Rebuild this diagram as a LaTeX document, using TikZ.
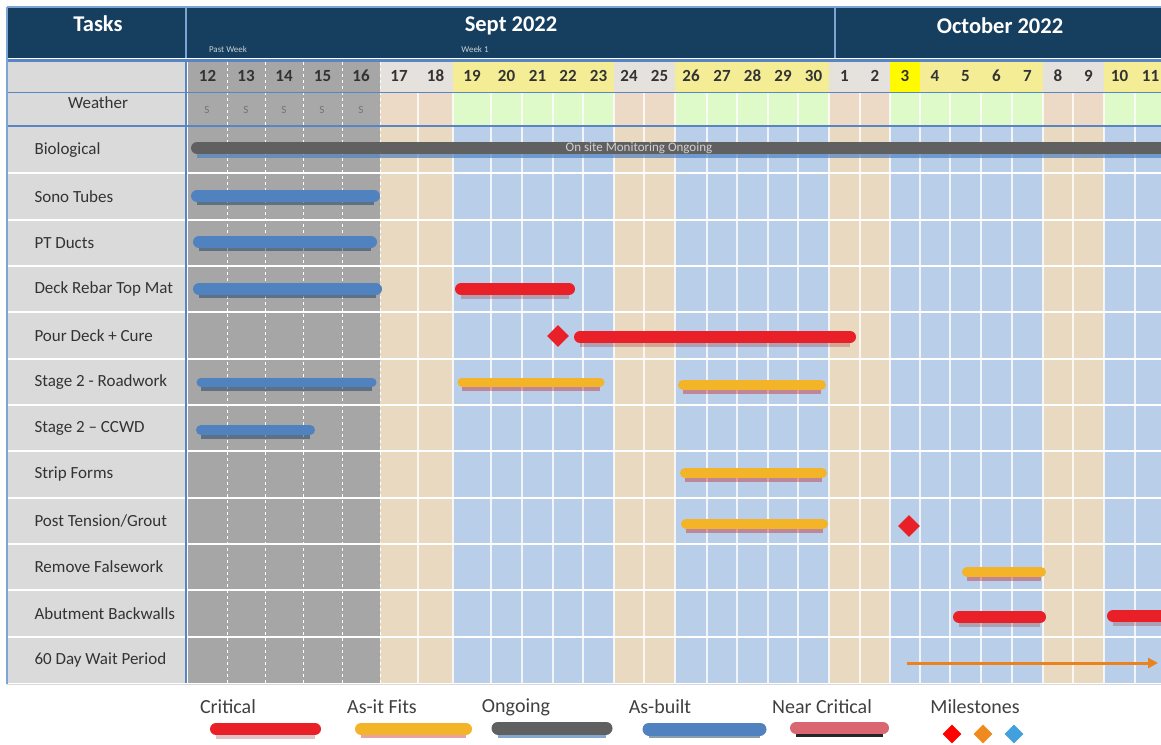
\documentclass[tikz,border=0pt]{standalone}
\usepackage{fontspec}
\setmainfont{Carlito}
\usepackage{xcolor}
\usepackage{tikz}
\usetikzlibrary{arrows.meta,positioning,shapes.geometric}

\definecolor{headblue}{RGB}{22,62,94}
\definecolor{framebl}{RGB}{125,165,212}
\definecolor{rulebl}{RGB}{88,134,196}
\definecolor{taskgrey}{RGB}{218,218,218}
\definecolor{datep}{RGB}{166,166,166}
\definecolor{datew}{RGB}{229,225,221}
\definecolor{dated}{RGB}{244,237,150}
\definecolor{datet}{RGB}{255,250,0}
\definecolor{wxp}{RGB}{168,168,168}
\definecolor{wxw}{RGB}{237,218,198}
\definecolor{wxd}{RGB}{221,250,200}
\definecolor{wxt}{RGB}{221,250,200}
\definecolor{bodyp}{RGB}{166,166,166}
\definecolor{bodyw}{RGB}{232,217,192}
\definecolor{bodyd}{RGB}{185,207,233}
\definecolor{bodyt}{RGB}{185,207,233}
\definecolor{critred}{RGB}{234,32,40}
\definecolor{fitorange}{RGB}{243,180,40}
\definecolor{ongoinggrey}{RGB}{96,96,96}
\definecolor{builtblue}{RGB}{80,130,192}
\definecolor{nearpink}{RGB}{218,102,114}
\definecolor{msorange}{RGB}{240,138,30}
\definecolor{msblue}{RGB}{66,160,220}
\definecolor{arroworange}{RGB}{234,130,30}

\begin{document}
\begin{tikzpicture}[
  x=1pt,y=-1pt,
  head/.style={text=white,font=\fontsize{22.5}{26}\selectfont\bfseries},
  tiny/.style={text=white!75!headblue,font=\fontsize{9}{10}\selectfont},
  daylbl/.style={text=black!80,font=\fontsize{17}{19}\selectfont\bfseries},
  wxlbl/.style={text=black!55,font=\fontsize{11}{12}\selectfont},
  tasklbl/.style={anchor=west,text=black!80,font=\fontsize{17}{19}\selectfont},
  legendlbl/.style={text=black!75,font=\fontsize{20}{22}\selectfont},
  bar/.style={line width=12pt,line cap=round},
  critical/.style={bar,draw=critred,preaction={draw=critred!60!black,draw opacity=0.25,line width=13pt,transform canvas={yshift=-3pt}}},
  asfits/.style={bar,line width=10pt,draw=fitorange,preaction={draw=critred!85!black,draw opacity=0.4,line width=11pt,transform canvas={yshift=-3pt}}},
  ongoing/.style={bar,draw=ongoinggrey,preaction={draw=builtblue,draw opacity=0.7,line width=12pt,transform canvas={yshift=-4pt}}},
  asbuilt/.style={bar,draw=builtblue,preaction={draw=headblue,draw opacity=0.5,line width=12pt,transform canvas={yshift=-3pt}}},
  nearcrit/.style={bar,draw=nearpink,preaction={draw=black!85,line width=12pt,transform canvas={yshift=-3pt}}},
  milestone/.style={diamond,inner sep=0pt,minimum size=22pt},
  msmark/.style={diamond,inner sep=0pt,minimum size=19pt}
]
\useasboundingbox[fill=white] (0,0) rectangle (1161,744);
\clip (0,0) rectangle (1161,744);

% header band
\fill[headblue] (8,8) rectangle (1165,58);
\draw[framebl,line width=1.5pt] (7,7) -- (1165,7) (7,7) -- (7,684);
\draw[framebl,line width=2pt] (186,8) -- (186,58) (835,8) -- (835,58);
\node[head] (tasks) at (98,24) {Tasks};
\node[head] (sept) at (511,26) {Sept 2022};
\node[head] (oct) at (1000,26) {October 2022};
\node[tiny] (pastweek) at (228,49) {Past Week};
\node[tiny] (week1) at (475,49) {Week 1};

% left column
\fill[taskgrey] (8,62) rectangle (186,683);

% day columns
\foreach \lbl/\xa/\xb/\kind in {12/188/227/p,13/227/265/p,14/265/303/p,15/303/342/p,16/342/380/p,
  17/380/418/w,18/418/453/w,19/453/491/d,20/491/522/d,21/522/553/d,22/553/583/d,23/583/614/d,
  24/614/644/w,25/644/675/w,26/675/707/d,27/707/737/d,28/737/768/d,29/768/798/d,30/798/829/d,
  1/829/860/w,2/860/890/w,3/890/920/t,4/920/950/d,5/950/981/d,6/981/1012/d,7/1012/1043/d,
  8/1043/1073/w,9/1073/1104/w,10/1104/1135/d,11/1135/1166/d}{
  \fill[date\kind] (\xa,62) rectangle (\xb,92);
  \fill[wx\kind] (\xa,93) rectangle (\xb,125);
  \fill[body\kind] (\xa,127) rectangle (\xb,683);
  \node[daylbl] (day\lbl) at ({(\xa+\xb)/2},76) {\lbl};
}

% grid lines
\foreach \xa in {227,265,303,342,380}
  \draw[white,line width=1pt,dashed] (\xa,62) -- (\xa,683);
\foreach \xa in {418,453,491,522,553,583,614,644,675,707,737,768,798,829,860,890,920,950,981,1012,1043,1073,1104,1135}
  \draw[white,line width=1.2pt,opacity=0.8] (\xa,93) -- (\xa,683);
\foreach \r in {1,...,11}
  \draw[white,line width=2pt] (8,{127+46.33*\r}) -- (1165,{127+46.33*\r});
\draw[rulebl,line width=3pt] (8,60) -- (1165,60);
\draw[rulebl,line width=1.8pt] (8,92.5) -- (1165,92.5);
\draw[rulebl,line width=1.8pt] (8,126) -- (1165,126);
\draw[rulebl,line width=1.5pt] (186,60) -- (186,683);
\draw[black!15,line width=1pt] (7,684) -- (1165,684);

% weather
\node[tasklbl,anchor=center] (weather) at (98,103) {Weather};
\foreach \lbl/\xc in {12/207,13/246,14/284,15/322,16/361}
  \node[wxlbl] (wx\lbl) at (\xc,110) {S};

% task names
\foreach \name [count=\i] in {Biological,Sono Tubes,PT Ducts,Deck Rebar Top Mat,Pour Deck + Cure,
  Stage 2 - Roadwork,Stage 2 -- CCWD,Strip Forms,Post Tension/Grout,Remove Falsework,
  Abutment Backwalls,60 Day Wait Period}
  \node[tasklbl] (task\i) at (31,{127+46.33*(\i-0.5)}) {\name};

% bars
\draw[ongoing] (197,148) -- (1175,148);
\node[text=black!18,font=\fontsize{13}{14}\selectfont] (monitor) at (639,148.5) {On site Monitoring Ongoing};
\draw[asbuilt] (197,196) -- (374,196);
\draw[asbuilt] (199,242) -- (371,242);
\draw[asbuilt] (199,289) -- (376,289);
\draw[critical] (461,289) -- (569,289);
\draw[critical] (580,337) -- (850,337);
\node[milestone,fill=critred] (pourms) at (558,336) {};
\draw[asbuilt,line width=9pt] (201,382) -- (372,382);
\draw[asfits,line width=9pt] (462,382) -- (600,382);
\draw[asfits] (683,385) -- (821,385);
\draw[asbuilt,line width=10pt] (201,430) -- (310,430);
\draw[asfits] (685,473) -- (822,473);
\draw[asfits] (686,524) -- (823,524);
\node[milestone,fill=critred] (ptms) at (909,526) {};
\draw[asfits] (967,572) -- (1041,572);
\draw[critical] (959,617) -- (1040,617);
\draw[critical] (1113,616) -- (1175,616);
\coordinate (waitstart) at (907,663);
\coordinate (waitend) at (1158,663);
\draw[arroworange,line width=3pt,-{Triangle[length=10pt,width=10pt]}] (waitstart) -- (waitend);

% legend
\node[legendlbl] (lgcrit) at (228,707) {Critical};
\node[legendlbl] (lgfits) at (382,707) {As-it Fits};
\node[legendlbl] (lgongo) at (516,707) {Ongoing};
\node[legendlbl] (lgbuilt) at (660,707) {As-built};
\node[legendlbl] (lgnear) at (822,707) {Near Critical};
\node[legendlbl] (lgms) at (975,707) {Milestones};
\draw[critical] (216,729) -- (315,729);
\draw[asfits,line width=12pt] (361,729) -- (466,729);
\draw[ongoing,line width=13pt] (498,728) -- (606,728);
\draw[asbuilt,line width=13pt] (649,729) -- (760,729);
\draw[nearcrit] (796,728) -- (883,728);
\node[msmark,fill=red] (msred) at (952,734) {};
\node[msmark,fill=msorange] (msorng) at (983,734) {};
\node[msmark,fill=msblue] (msblu) at (1014,734) {};
\end{tikzpicture}
\end{document}
